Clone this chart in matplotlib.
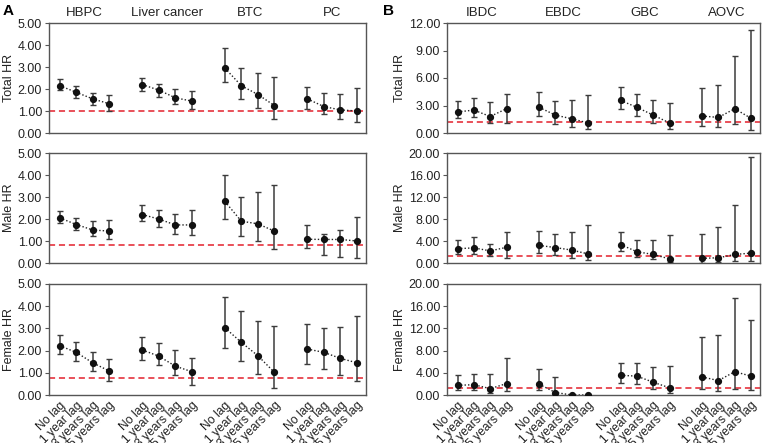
import matplotlib
matplotlib.use("Agg")
import matplotlib.pyplot as plt
import numpy as np

plt.rcParams['font.family'] = ['Liberation Sans', 'DejaVu Sans']

lag_labels = ["No lag", "1 year lag", "3 years lag", "5 years lag"]
groups_A = ["HBPC", "Liver cancer", "BTC", "PC"]
groups_B = ["IBDC", "EBDC", "GBC", "AOVC"]

# Panel A values: point, upper, lower per group (4 lags each)
A_total_hr = [[2.15, 1.85, 1.55, 1.33], [2.2, 1.95, 1.6, 1.45], [2.95, 2.15, 1.75, 1.25], [1.55, 1.2, 1.05, 1.0]]
A_total_up = [[2.45, 2.15, 1.83, 1.73], [2.5, 2.25, 2.0, 1.9], [3.85, 2.95, 2.75, 2.55], [2.1, 1.8, 1.78, 2.05]]
A_total_lo = [[1.94, 1.6, 1.27, 0.98], [1.9, 1.65, 1.3, 1.1], [2.3, 1.55, 1.15, 0.65], [1.1, 0.85, 0.65, 0.5]]

A_male_hr = [[2.05, 1.75, 1.5, 1.45], [2.2, 2.0, 1.73, 1.73], [2.8, 1.9, 1.78, 1.45], [1.08, 1.07, 1.07, 1.0]]
A_male_up = [[2.35, 2.05, 1.9, 1.97], [2.62, 2.4, 2.23, 2.43], [4.02, 3.02, 3.25, 3.55], [1.75, 1.33, 1.5, 2.07]]
A_male_lo = [[1.8, 1.5, 1.25, 1.08], [1.9, 1.65, 1.33, 1.27], [1.98, 1.22, 1.0, 0.62], [0.68, 0.35, 0.28, 0.25]]

A_female_hr = [[2.22, 1.92, 1.45, 1.08], [2.03, 1.75, 1.3, 1.05], [3.03, 2.37, 1.77, 1.02], [2.07, 1.92, 1.65, 1.45]]
A_female_up = [[2.72, 2.4, 1.95, 1.6], [2.63, 2.35, 2.02, 1.65], [4.43, 3.78, 3.35, 3.13], [3.2, 3.0, 3.05, 3.57]]
A_female_lo = [[1.85, 1.52, 1.08, 0.63], [1.57, 1.33, 0.88, 0.45], [2.1, 1.52, 0.93, 0.33], [1.4, 1.18, 0.88, 0.62]]

# Panel B values
B_total_hr = [[2.3, 2.5, 1.8, 2.65], [2.8, 1.95, 1.55, 1.1], [3.55, 2.8, 1.95, 1.1], [1.85, 1.7, 2.65, 1.6]]
B_total_up = [[3.45, 3.8, 3.4, 4.25], [4.5, 3.5, 3.6, 4.15], [5.05, 4.25, 3.65, 3.3], [4.9, 5.2, 8.35, 11.25]]
B_total_lo = [[1.6, 1.75, 1.1, 1.1], [1.85, 1.0, 0.65, 0.4], [2.6, 1.85, 1.1, 0.4], [0.75, 0.65, 0.95, 0.3]]

B_male_hr = [[2.6, 2.75, 2.2, 2.85], [3.2, 2.8, 2.35, 1.65], [3.35, 2.05, 1.55, 0.75], [0.85, 0.95, 1.55, 1.8]]
B_male_up = [[4.2, 4.7, 3.4, 5.7], [5.8, 5.3, 5.7, 6.85], [5.65, 4.15, 4.15, 5.1], [5.35, 6.6, 10.6, 19.3]]
B_male_lo = [[1.6, 1.7, 1.2, 1.0], [1.9, 1.4, 1.0, 0.6], [2.1, 1.15, 0.7, 0.1], [0.05, 0.1, 0.3, 0.35]]

B_female_hr = [[1.75, 1.85, 1.15, 2.05], [1.95, 0.45, 0.0, 0.0], [3.55, 3.4, 2.3, 1.3], [3.25, 2.6, 4.2, 3.4]]
B_female_up = [[3.55, 3.85, 3.75, 6.6], [4.75, 3.3, 0.0, 0.0], [5.8, 5.85, 5.05, 5.3], [10.5, 10.8, 17.4, 13.5]]
B_female_lo = [[0.9, 0.9, 0.45, 0.75], [0.9, 0.1, 0.0, 0.0], [2.25, 1.95, 1.05, 0.45], [1.0, 0.7, 1.1, 0.85]]

ref_A = [1.0, 0.8, 0.78]
ref_B = [1.25, 1.3, 1.35]

ylims_A = [(0, 5), (0, 5), (0, 5)]
yticks_A = [np.arange(0, 5.01, 1)] * 3
ylims_B = [(0, 12), (0, 20), (0, 20)]
yticks_B = [np.arange(0, 12.01, 3), np.arange(0, 20.01, 4), np.arange(0, 20.01, 4)]
row_labels = ["Total HR", "Male HR", "Female HR"]

W, H = 762, 443
fig = plt.figure(figsize=(W / 100, H / 100), dpi=100)

rows_px = [(23, 133), (153, 263), (284, 395)]
cols_px = [(49, 366), (447, 760)]

def fx(px):
    return px / W

def fy(px):
    return 1 - px / H

FS = 9
spine_c = '#555555'
bar_c = '#3c3c3c'
red = '#e3202c'

data_A = [(A_total_hr, A_total_up, A_total_lo), (A_male_hr, A_male_up, A_male_lo), (A_female_hr, A_female_up, A_female_lo)]
data_B = [(B_total_hr, B_total_up, B_total_lo), (B_male_hr, B_male_up, B_male_lo), (B_female_hr, B_female_up, B_female_lo)]

for ci, (data, groups, refs, ylims, yticks) in enumerate([
        (data_A, groups_A, ref_A, ylims_A, yticks_A),
        (data_B, groups_B, ref_B, ylims_B, yticks_B)]):
    x0, x1 = cols_px[ci]
    for ri in range(3):
        y0, y1 = rows_px[ri]
        ax = fig.add_axes([fx(x0), fy(y1), fx(x1 - x0), (y1 - y0) / H])
        hr, up, lo = data[ri]
        for gi in range(4):
            xs = np.arange(4) + gi * 5
            h = np.array(hr[gi]); u = np.array(up[gi]); l = np.array(lo[gi])
            ax.plot(xs, h, ls=(0, (1, 1.5)), color='#222222', lw=1.0, zorder=3)
            has = u > 0
            ax.errorbar(xs[has], h[has], yerr=[h[has] - l[has], u[has] - h[has]],
                        fmt='none', ecolor=bar_c, elinewidth=1.1, capsize=2.5, capthick=1.0, zorder=2)
            ax.plot(xs, h, 'o', color='#111111', ms=4.2, zorder=4)
        ax.axhline(refs[ri], color=red, ls=(0, (4, 2.5)), lw=1.1, zorder=1)
        ax.set_xlim(-0.65, 18.55)
        ax.set_ylim(*ylims[ri])
        ax.set_yticks(yticks[ri])
        ax.set_yticklabels([f"{v:.2f}" for v in yticks[ri]], fontsize=FS, color='#222222')
        ax.tick_params(axis='y', length=3, width=0.8, color=spine_c, pad=2)
        for s in ax.spines.values():
            s.set_color(spine_c)
            s.set_linewidth(1.0)
        ax.set_ylabel(row_labels[ri], fontsize=FS, color='#222222', labelpad=2)
        xt = [i + g * 5 for g in range(4) for i in range(4)]
        ax.set_xticks(xt)
        if ri == 2:
            ax.set_xticklabels(lag_labels * 4, rotation=45, ha='right', rotation_mode='anchor',
                               fontsize=8.7, color='#222222')
            ax.tick_params(axis='x', length=0, pad=3)
        else:
            ax.set_xticklabels([])
            ax.tick_params(axis='x', length=0)
        if ri == 0:
            for gi, g in enumerate(groups):
                ax.text(gi * 5 + 1.5, 1.04, g, transform=ax.get_xaxis_transform(),
                        ha='center', va='bottom', fontsize=FS + 0.5, color='#222222')

fig.text(fx(3), fy(11), "A", fontsize=11, fontweight='bold', va='center', ha='left')
fig.text(fx(383), fy(11), "B", fontsize=11, fontweight='bold', va='center', ha='left')

fig.savefig("out.png", dpi=100)
